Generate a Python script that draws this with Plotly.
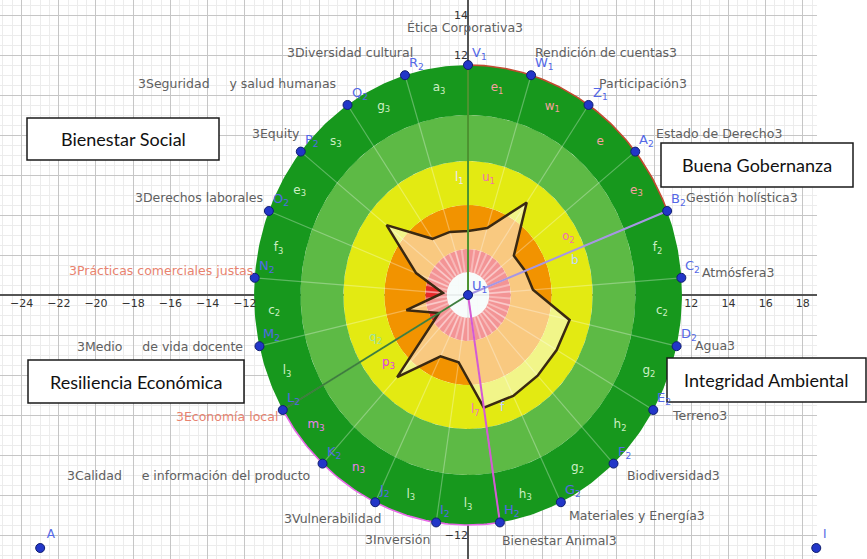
import numpy as np
import plotly.graph_objects as go

# ---------------- data ----------------
themes = ["Ética Corporativa3", "Rendición de cuentas3", "Participación3", "Estado de Derecho3",
          "Gestión holística3", "Atmósfera3", "Agua3", "Terreno3", "Biodiversidad3",
          "Materiales y Energía3", "Bienestar Animal3", "3Inversión", "3Vulnerabilidad",
          "3Calidad\u00a0\u00a0\u00a0\u00a0 e información del producto", "3Economía local",
          "3Medio\u00a0\u00a0\u00a0\u00a0 de vida docente", "3Prácticas comerciales justas",
          "3Derechos laborales", "3Equity", "3Seguridad\u00a0\u00a0\u00a0\u00a0 y salud humanas",
          "3Diversidad cultural"]
point_names = ["V<sub>1</sub>", "W<sub>1</sub>", "Z<sub>1</sub>", "A<sub>2</sub>", "B<sub>2</sub>",
               "C<sub>2</sub>", "D<sub>2</sub>", "E<sub>2</sub>", "F<sub>2</sub>", "G<sub>2</sub>",
               "H<sub>2</sub>", "I<sub>2</sub>", "J<sub>2</sub>", "K<sub>2</sub>", "L<sub>2</sub>",
               "M<sub>2</sub>", "N<sub>2</sub>", "O<sub>2</sub>", "P<sub>2</sub>", "Q<sub>2</sub>",
               "R<sub>2</sub>"]
scores = [3.2, 3.5, 5.6, 3.15, 3.3, 3.5, 5.6, 5.5, 5.5, 5.6, 5.7, 3.4, 3.4, 5.6, 1.8,
          3.4, 1.35, 3.0, 5.6, 3.4, 3.3]
ring_tags = ["e<sub>1</sub>", "w<sub>1</sub>", "e", "e<sub>3</sub>", "f<sub>2</sub>", "c<sub>2</sub>",
             "g<sub>2</sub>", "h<sub>2</sub>", "g<sub>2</sub>", "h<sub>3</sub>", "l<sub>3</sub>",
             "l<sub>3</sub>", "n<sub>3</sub>", "m<sub>3</sub>", "l<sub>3</sub>", "c<sub>2</sub>",
             "f<sub>3</sub>", "e<sub>3</sub>", "s<sub>3</sub>", "g<sub>3</sub>", "a<sub>3</sub>"]
ring_edges = [0, 1.15, 2.3, 4.5, 6.7, 9.0, 11.5]
outer_radius = 11.5
dimension_points = [0, 4, 10, 14]          # V1, B2, H2, L2
x_tick_values = [-24, -22, -20, -18, -16, -14, -12, 12, 14, 16, 18]
y_tick_values = [-12, 12, 14]
corner_names = ["A", "I"]
corner_x = [-23.0, 18.72]
corner_y = [-12.65, -12.65]
line_tags = ["l<sub>1</sub>", "u<sub>1</sub>", "o<sub>2</sub>", "b", "q<sub>2</sub>",
             "p<sub>3</sub>", "l<sub>7</sub>", "f"]
boxes = ["Bienestar Social", "Buena Gobernanza", "Resiliencia Económica", "Integridad Ambiental"]

# ---------------- styles / positions ----------------
ring_colors = ["rgba(236,248,245,0.85)", "#E6282A", "#F29300", "#E3EA12", "#5DBA45", "#17981D"]
dimension_colors = ["#4C9330", "#A696E4", "#D45AD4", "#3E7E3E"]
ring_tag_colors = ["#F6A0A0"] * 4 + ["#CDEFC4"] * 8 + ["#F07EF0", "#F07EF0"] + ["#CDEFC4"] * 7
theme_pos = [(-0.16, 13.4, "center"), (3.49, 12.15, "left"), (6.94, 10.6, "left"), (10.0, 8.1, "left"),
             (11.6, 4.9, "left"), (12.47, 1.15, "left"), (12.1, -2.5, "left"), (10.86, -6.0, "left"),
             (8.44, -9.0, "left"), (5.32, -11.0, "left"), (1.72, -12.25, "left"),
             (-1.94, -12.2, "right"), (-4.57, -11.15, "right"), (-8.39, -9.0, "right"),
             (-10.1, -6.05, "right"), (-12.0, -2.55, "right"), (-11.45, 1.25, "right"),
             (-10.9, 4.9, "right"), (-8.92, 8.1, "right"), (-6.99, 10.6, "right"), (-2.85, 12.15, "right")]
theme_colors = ["#606060"] * 21
theme_colors[14] = "#E8836F"
theme_colors[16] = "#E8836F"
line_tag_pos = [(-0.48, 5.85), (1.08, 5.85), (5.38, 2.9), (5.75, 1.75), (-5.0, -2.15),
                (-4.3, -3.4), (0.38, -5.75), (1.83, -5.6)]
line_tag_colors = ["#EDE6FF", "#F070B0", "#F070B0", "#C0D8FF", "#9FE29F", "#E040E0", "#F070C0", "#C0D0FF"]
box_px = [(27, 118, 219, 160), (661, 143, 853, 187), (28, 360, 244, 403), (667, 358, 866, 402)]
label_blue = "#5468E6"

W, H = 867, 559
xr = [-25.16, 18.76]
yr = [-13.2, 14.75]
dom = [0, 817 / W]

n = len(themes)
ang = np.deg2rad(90 - 360.0 / n * np.arange(n))
mid = ang - np.deg2rad(180.0 / n)

fig = go.Figure()

# helper traces for the overlaid label axes
fig.add_trace(go.Scatter(x=[0], y=[0], xaxis="x2", yaxis="y", mode="markers",
                         marker=dict(opacity=0), hoverinfo="skip", showlegend=False))
fig.add_trace(go.Scatter(x=[0], y=[0], xaxis="x", yaxis="y2", mode="markers",
                         marker=dict(opacity=0), hoverinfo="skip", showlegend=False))

# rings
th = np.linspace(0, 2 * np.pi, 361)
for i, c in enumerate(ring_colors):
    r0, r1 = ring_edges[i], ring_edges[i + 1]
    xs = np.concatenate([r1 * np.cos(th), r0 * np.cos(th[::-1])])
    ys = np.concatenate([r1 * np.sin(th), r0 * np.sin(th[::-1])])
    fig.add_trace(go.Scatter(x=xs, y=ys, fill="toself", fillcolor=c, mode="lines",
                             line=dict(width=0), hoverinfo="skip", showlegend=False))

# sector separators
sx, sy = [], []
for a in ang:
    sx += [ring_edges[1] * np.cos(a), outer_radius * np.cos(a), None]
    sy += [ring_edges[1] * np.sin(a), outer_radius * np.sin(a), None]
fig.add_trace(go.Scatter(x=sx, y=sy, mode="lines", line=dict(color="rgba(255,255,255,0.3)", width=1.2),
                         hoverinfo="skip", showlegend=False))
# stripes in the red ring
stx, sty = [], []
for a in np.concatenate([ang, mid]):
    stx += [ring_edges[1] * np.cos(a), ring_edges[2] * np.cos(a), None]
    sty += [ring_edges[1] * np.sin(a), ring_edges[2] * np.sin(a), None]
fig.add_trace(go.Scatter(x=stx, y=sty, mode="lines", line=dict(color="rgba(255,220,220,0.4)", width=2),
                         hoverinfo="skip", showlegend=False))

# score polygon
sc = np.array(scores)
px_ = np.append(sc * np.cos(ang), sc[0] * np.cos(ang[0]))
py_ = np.append(sc * np.sin(ang), sc[0] * np.sin(ang[0]))
fig.add_trace(go.Scatter(x=px_, y=py_, fill="toself", fillcolor="rgba(255,255,255,0.5)", mode="lines",
                         line=dict(color="#3A2912", width=2.5), hoverinfo="skip", showlegend=False))

# outer arcs
def arc(a0, a1, color):
    t = np.linspace(a0, a1, 80)
    fig.add_trace(go.Scatter(x=outer_radius * np.cos(t), y=outer_radius * np.sin(t), mode="lines",
                             line=dict(color=color, width=1.6), hoverinfo="skip", showlegend=False))
arc(ang[0], ang[4], "#C24A30")
arc(ang[14] + 2 * np.pi, ang[10] + 2 * np.pi, "#E86AE8")

# dimension lines
for k, c in zip(dimension_points, dimension_colors):
    fig.add_trace(go.Scatter(x=[0, outer_radius * np.cos(ang[k])], y=[0, outer_radius * np.sin(ang[k])],
                             mode="lines", line=dict(color=c, width=2), hoverinfo="skip", showlegend=False))

# outer ring small labels
fig.add_trace(go.Scatter(x=10.45 * np.cos(mid), y=10.45 * np.sin(mid), mode="text", text=ring_tags,
                         textfont=dict(family="DejaVu Sans", size=12, color=ring_tag_colors),
                         hoverinfo="skip", showlegend=False))

# points on the circle
ptx = outer_radius * np.cos(ang)
pty = outer_radius * np.sin(ang)
fig.add_trace(go.Scatter(x=ptx, y=pty, mode="markers",
                         marker=dict(size=9, color="#2236C8", line=dict(color="#101E70", width=1)),
                         hoverinfo="skip", showlegend=False))
for t, x, y in zip(point_names, ptx, pty):
    fig.add_annotation(x=x, y=y, text=t, showarrow=False, xanchor="left", yanchor="bottom",
                       xshift=2, yshift=1, font=dict(family="DejaVu Sans", size=13, color=label_blue))
# centre point
fig.add_trace(go.Scatter(x=[0], y=[0], mode="markers",
                         marker=dict(size=9, color="#2236C8", line=dict(color="#101E70", width=1)),
                         hoverinfo="skip", showlegend=False))
fig.add_annotation(x=0, y=0, text="U<sub>1</sub>", showarrow=False, xanchor="left", yanchor="bottom",
                   xshift=2, yshift=-2, font=dict(family="DejaVu Sans", size=13, color=label_blue))
# corner points
fig.add_trace(go.Scatter(x=corner_x, y=corner_y, mode="markers+text", text=corner_names,
                         textposition="top right", cliponaxis=False,
                         textfont=dict(family="DejaVu Sans", size=12, color=label_blue),
                         marker=dict(size=9, color="#2236C8", line=dict(color="#101E70", width=1)),
                         hoverinfo="skip", showlegend=False))

# small labels near the dimension lines
for t, (x, y), c in zip(line_tags, line_tag_pos, line_tag_colors):
    fig.add_annotation(x=x, y=y, text=t, showarrow=False, font=dict(family="DejaVu Sans", size=12, color=c))

# theme labels
for t, (x, y, anc), c in zip(themes, theme_pos, theme_colors):
    fig.add_annotation(x=x, y=y, text=t, showarrow=False, xanchor=anc, yanchor="middle",
                       font=dict(family="DejaVu Sans", size=12.5, color=c))

# boxed dimension titles
for t, (x0, y0, x1, y1) in zip(boxes, box_px):
    fig.add_shape(type="rect", xref="paper", yref="paper", x0=x0 / W, x1=x1 / W,
                  y0=1 - y1 / H, y1=1 - y0 / H, line=dict(color="#1a1a1a", width=1.5),
                  fillcolor="white", layer="above")
    fig.add_annotation(xref="paper", yref="paper", x=(x0 + x1) / 2 / W, y=1 - (y0 + y1) / 2 / H,
                       xanchor="center", yanchor="middle",
                       text=t, showarrow=False, font=dict(family="Lato", size=18, color="#111"))

pos_x = (0 - yr[0]) / (yr[1] - yr[0])
pos_y = dom[1] * (0 - xr[0]) / (xr[1] - xr[0])
grid = dict(showgrid=True, gridcolor="#c6c6c6", gridwidth=1, dtick=2, tick0=0,
            minor=dict(dtick=0.5, tick0=0, showgrid=True, gridcolor="#ececec", gridwidth=1),
            showticklabels=False, ticks="", zeroline=True, zerolinecolor="#555", zerolinewidth=1.5,
            showline=False, fixedrange=True)
fig.update_layout(
    width=W, height=H, margin=dict(l=0, r=0, t=0, b=0), paper_bgcolor="white", plot_bgcolor="white",
    showlegend=False,
    xaxis=dict(domain=dom, range=xr, **grid),
    yaxis=dict(domain=[0, 1], range=yr, **grid),
    xaxis2=dict(overlaying="x", anchor="free", position=pos_x, range=xr, tickvals=x_tick_values,
                showgrid=False, zeroline=False, showline=False, ticks="", side="bottom",
                tickfont=dict(family="DejaVu Sans", size=11, color="#333")),
    yaxis2=dict(overlaying="y", anchor="free", position=pos_y, range=yr, tickvals=y_tick_values,
                showgrid=False, zeroline=False, showline=False, ticks="", side="left",
                tickfont=dict(family="DejaVu Sans", size=11, color="#333")),
)
fig.write_html("out.html", config={"displayModeBar": False},
               post_script="document.body.style.margin='0px';")
